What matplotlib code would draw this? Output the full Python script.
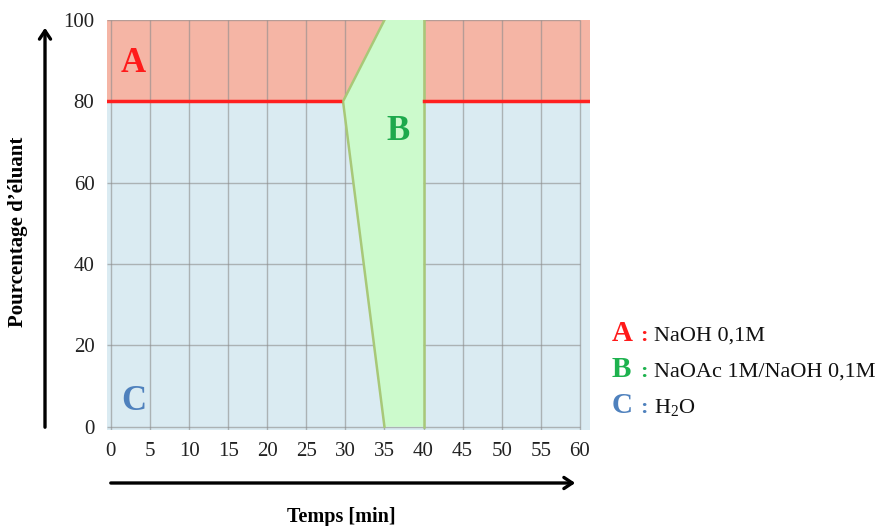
import numpy as np
import matplotlib
matplotlib.use("Agg")
import matplotlib.pyplot as plt

# eluent gradient (time in min, percentage)
a_level = 80                       # A occupies 80-100 %
b_time = [35, 29.7, 35, 40, 40]    # outline of the B zone
b_pct = [0, 80, 100, 100, 0]
red_left = [-0.5, 29.3]
red_right = [40, 61.3]
xticks = list(range(0, 61, 5))
yticks = [0, 20, 40, 60, 80, 100]
legend_letters = ["A", "B", "C"]
legend_texts = ["NaOH 0,1M", "NaOAc 1M/NaOH 0,1M", "H$_\\mathregular{2}$O"]
legend_colors = ["#FF1A1A", "#1DB24E", "#4F81BD"]

plt.rcParams["font.family"] = ["Liberation Serif", "DejaVu Serif"]

fig = plt.figure(figsize=(8.86, 5.26), dpi=100)
ax = fig.add_axes([107/886, 96/526, 483/886, 410/526])
ax.set_xlim(-0.5, 61.3)
ax.set_ylim(-0.8, 100)

ax.axhspan(a_level, 100, color="#F5B5A5", lw=0, zorder=0)
ax.axhspan(-0.8, a_level, color="#DAEBF2", lw=0, zorder=0)
ax.fill(b_time, b_pct, facecolor="#CCFACC", edgecolor="none", zorder=2)
# outline: slanted left side and vertical right side
ax.plot(b_time[:3], b_pct[:3], color="#A8C878", lw=1.8, zorder=3)
ax.plot(b_time[3:], b_pct[3:], color="#A8C878", lw=1.8, zorder=3)

ax.vlines(xticks, -0.8, 100, color="#8c8c8c", lw=1, alpha=0.6, zorder=1)
ax.hlines(yticks, -0.5, 60, color="#8c8c8c", lw=1, alpha=0.6, zorder=1)

ax.plot(red_left, [a_level, a_level], color="#FF2020", lw=2.5, zorder=3)
ax.plot(red_right, [a_level, a_level], color="#FF2020", lw=2.5, zorder=3)

ax.text(1.3, 87.3, "A", color="#FF1A1A", fontsize=25, fontweight="bold", va="baseline")
ax.text(35.3, 70.5, "B", color="#1DA94C", fontsize=25, fontweight="bold", va="baseline")
ax.text(1.3, 4.2, "C", color="#4F81BD", fontsize=25, fontweight="bold", va="baseline")

ax.set_xticks(xticks)
ax.set_yticks(yticks)
ax.tick_params(length=0, labelsize=15, colors="#222222", pad=9)
for s in ax.spines.values():
    s.set_visible(False)

# arrows
fig.patches.append(matplotlib.patches.FancyArrowPatch(
    (45/886, 1 - 430/526), (45/886, 1 - 25/526), transform=fig.transFigure,
    arrowstyle="->,head_length=6,head_width=4", lw=2.4, color="black"))
fig.patches.append(matplotlib.patches.FancyArrowPatch(
    (108/886, 1 - 483/526), (578/886, 1 - 483/526), transform=fig.transFigure,
    arrowstyle="->,head_length=6,head_width=4", lw=2.4, color="black"))

fig.text(18/886, 1 - 232/526, "Pourcentage d\u2019\u00e9luant", rotation=90,
         fontsize=15, fontweight="bold", ha="center", va="center")
fig.text(341/886, 1 - 517/526, "Temps [min]", fontsize=14.5, fontweight="bold",
         ha="center", va="center")

# legend
for i, (let, txt, col) in enumerate(zip(legend_letters, legend_texts, legend_colors)):
    y = 1 - (341 + 36 * i) / 526
    fig.text(612/886, y, let, color=col, fontsize=21, fontweight="bold", va="baseline")
    fig.text(640/886, y, ":", color=col, fontsize=16, fontweight="bold", va="baseline")
    fig.text(654/886, y, txt, color="#111111", fontsize=16, va="baseline")

fig.savefig("out.png", dpi=100)
